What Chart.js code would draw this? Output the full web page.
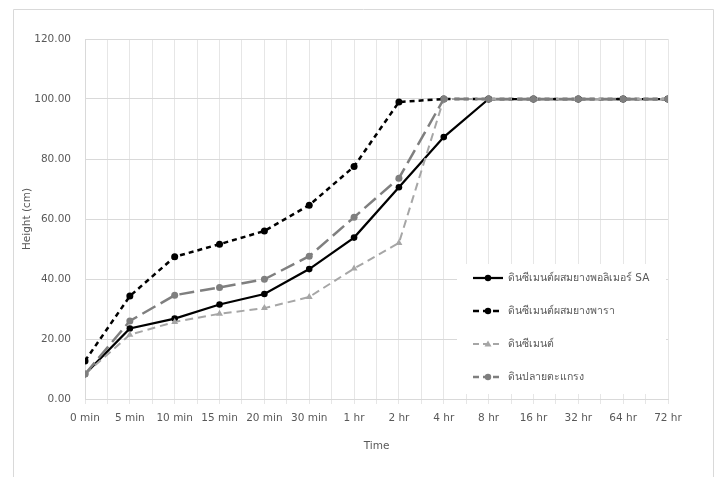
<!DOCTYPE html>
<html>
<head>
<meta charset="utf-8">
<script src="https://cdn.jsdelivr.net/npm/chart.js@4"></script>
<style>
  body { margin: 0; background: #fff; }
  #wrap { width: 715px; height: 477px; }
</style>
</head>
<body>
<div id="wrap"><canvas id="myChart" width="715" height="477"></canvas></div>
<script>
const categories = ['0 min', '5 min', '10 min', '15 min', '20 min', '30 min', '1 hr', '2 hr', '4 hr', '8 hr', '16 hr', '32 hr', '64 hr', '72 hr'];
const seriesNames = ['ดินซีเมนต์ผสมยางพอลิเมอร์ SA', 'ดินซีเมนต์ผสมยางพารา', 'ดินซีเมนต์', 'ดินปลายตะแกรง'];
const saPolymer = [8.3, 23.5, 26.8, 31.5, 35.0, 43.3, 53.8, 70.6, 87.3, 100, 100, 100, 100, 100];
const rubber = [12.7, 34.3, 47.4, 51.6, 56.0, 64.6, 77.5, 99.0, 100, 100, 100, 100, 100, 100];
const cement = [8.3, 21.4, 25.7, 28.4, 30.3, 34.0, 43.5, 52.0, 100, 100, 100, 100, 100, 100];
const laterite = [8.3, 26.0, 34.6, 37.2, 39.9, 47.6, 60.6, 73.6, 100, 100, 100, 100, 100, 100];
const yTicks = [0, 20, 40, 60, 80, 100, 120];

const FONT = '"DejaVu Sans", "Noto Sans", sans-serif';

function pts(arr) {
    return arr.map(function (v, i) { return { x: i, y: v }; });
}

// legend drawn inside the plot, like the excel one
const boxLegend = {
    id: 'boxLegend',
    beforeDraw: function (chart) {
        const c = chart.ctx;
        c.save();
        c.strokeStyle = '#d9d9d9';
        c.lineWidth = 1;
        c.beginPath();
        c.moveTo(13.5, 477);
        c.lineTo(13.5, 9.5);
        c.lineTo(713.5, 9.5);
        c.lineTo(713.5, 477);
        c.stroke();
        c.restore();
    },
    afterDraw: function (chart) {
        const c = chart.ctx;
        c.save();
        c.fillStyle = '#fff';
        c.fillRect(457, 264, 209, 130);
        chart.data.datasets.forEach(function (ds, i) {
            const y = 278 + i * 33;
            c.strokeStyle = ds.borderColor;
            c.lineWidth = ds.borderWidth;
            c.setLineDash(ds.borderDash ? [6, 4] : []);
            c.beginPath();
            c.moveTo(473, y);
            c.lineTo(503, y);
            c.stroke();
            c.setLineDash([]);
            c.fillStyle = ds.pointBackgroundColor;
            c.beginPath();
            if (ds.pointStyle === 'triangle') {
                c.moveTo(488, y - 3.5);
                c.lineTo(491.5, y + 2.5);
                c.lineTo(484.5, y + 2.5);
                c.closePath();
            } else {
                c.arc(488, y, 3.2, 0, Math.PI * 2);
            }
            c.fill();
            c.fillStyle = '#595959';
            c.font = '10.5px ' + FONT;
            c.textBaseline = 'middle';
            c.fillText(ds.label, 508, y);
        });
        c.restore();
    }
};

var ctx = document.getElementById('myChart').getContext('2d');
var myChart = new Chart(ctx, {
    type: 'line',
    data: {
        datasets: [{
            label: seriesNames[0],
            data: pts(saPolymer),
            borderColor: '#000',
            pointBackgroundColor: '#000',
            borderWidth: 2.25,
            pointBorderWidth: 0,
            pointRadius: 3.3,
            order: 4
        }, {
            label: seriesNames[1],
            data: pts(rubber),
            borderColor: '#000',
            pointBackgroundColor: '#000',
            borderWidth: 2.5,
            borderDash: [5, 4],
            pointBorderWidth: 0,
            pointRadius: 3.5,
            order: 3
        }, {
            label: seriesNames[2],
            data: pts(cement),
            borderColor: '#a6a6a6',
            pointBackgroundColor: '#a6a6a6',
            borderWidth: 2,
            borderDash: [8, 5],
            pointStyle: 'triangle',
            pointBorderWidth: 0,
            pointRadius: 4,
            order: 2
        }, {
            label: seriesNames[3],
            data: pts(laterite),
            borderColor: '#7f7f7f',
            pointBackgroundColor: '#7f7f7f',
            borderWidth: 2.5,
            borderDash: [15, 6],
            pointBorderWidth: 0,
            pointRadius: 3.5,
            order: 1
        }]
    },
    options: {
        responsive: false,
        animation: false,
        layout: { padding: { left: 0, right: 47, top: 39, bottom: 0 } },
        plugins: {
            legend: { display: false },
            tooltip: { enabled: false }
        },
        scales: {
            x: {
                type: 'linear',
                min: 0,
                max: categories.length - 1,
                afterBuildTicks: function (scale) {
                    const t = [];
                    for (let v = 0; v <= categories.length - 1; v += 0.5) t.push({ value: v });
                    scale.ticks = t;
                },
                afterFit: function (scale) { scale.height = 78; },
                grid: { color: '#e6e6e6', tickLength: 5, drawOnChartArea: true },
                border: { color: '#d9d9d9' },
                ticks: {
                    autoSkip: false,
                    maxRotation: 0,
                    padding: 8,
                    color: '#595959',
                    font: { family: FONT, size: 10.5 },
                    callback: function (v) { return Number.isInteger(v) ? categories[v] : ''; }
                },
                title: {
                    display: true,
                    text: 'Time',
                    color: '#595959',
                    font: { family: FONT, size: 10.5 },
                    padding: { top: 0, bottom: 24 }
                }
            },
            y: {
                min: 0,
                max: 120,
                afterBuildTicks: function (scale) {
                    scale.ticks = yTicks.map(function (v) { return { value: v }; });
                },
                afterFit: function (scale) { scale.width = 85; },
                grid: { color: '#d9d9d9', drawTicks: false },
                border: { color: '#d9d9d9' },
                ticks: {
                    padding: 14,
                    color: '#595959',
                    font: { family: FONT, size: 10.5 },
                    callback: function (v) { return v.toFixed(2); }
                },
                title: {
                    display: true,
                    text: 'Height (cm)',
                    color: '#595959',
                    font: { family: FONT, size: 10.5 },
                    padding: { top: 21, bottom: 0 }
                }
            }
        }
    },
    plugins: [boxLegend]
});
</script>
</body>
</html>
